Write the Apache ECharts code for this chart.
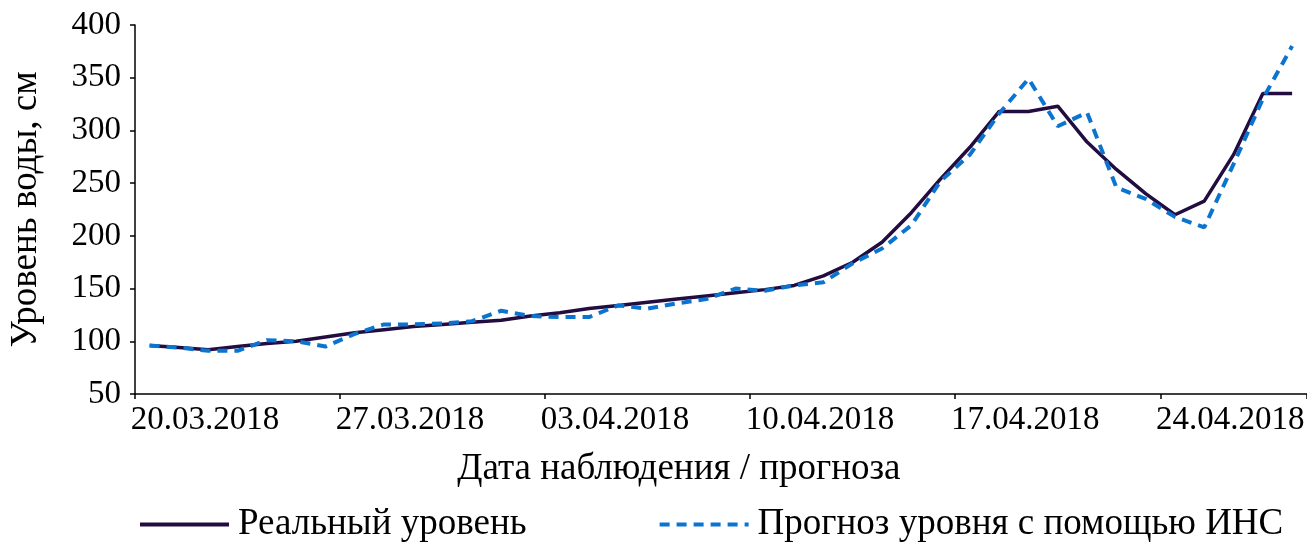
<!DOCTYPE html>
<html>
<head>
<meta charset="utf-8">
<script src="https://cdn.jsdelivr.net/npm/echarts@6/dist/echarts.min.js"></script>
<style>
html,body{margin:0;padding:0;background:#fff;}
#chart{width:1307px;height:544px;}
</style>
</head>
<body>
<div id="chart"></div>
<script>
const categories = [
  '20.03.2018','21.03.2018','22.03.2018','23.03.2018','24.03.2018','25.03.2018','26.03.2018',
  '27.03.2018','28.03.2018','29.03.2018','30.03.2018','31.03.2018','01.04.2018','02.04.2018',
  '03.04.2018','04.04.2018','05.04.2018','06.04.2018','07.04.2018','08.04.2018','09.04.2018',
  '10.04.2018','11.04.2018','12.04.2018','13.04.2018','14.04.2018','15.04.2018','16.04.2018',
  '17.04.2018','18.04.2018','19.04.2018','20.04.2018','21.04.2018','22.04.2018','23.04.2018',
  '24.04.2018','25.04.2018','26.04.2018','27.04.2018','28.04.2018'
];
const realLevel = [96, 94, 92, 95, 98, 100, 104, 108, 111, 114, 116, 118, 120, 124, 127, 131, 134, 137, 140, 143,
  146, 149, 153, 162, 175, 194, 222, 254, 284, 318, 318, 323, 289, 263, 240, 220, 233, 277, 335, 335];
const forecastLevel = [96, 94, 91, 91, 101, 100, 95, 107, 116, 116, 117, 119, 129, 124, 123, 123, 134, 131, 136, 140,
  150, 148, 153, 156, 174, 188, 210, 252, 277, 316, 349, 304, 317, 246, 235, 218, 208, 268, 330, 380];
const seriesNames = ['Реальный уровень', 'Прогноз уровня с помощью ИНС'];
const xTitle = 'Дата наблюдения / прогноза';
const yTitle = 'Уровень воды, см';

const FONT = 'Liberation Serif';
const chart = echarts.init(document.getElementById('chart'), null, {renderer: 'canvas'});
chart.setOption({
  animation: false,
  backgroundColor: '#fff',
  grid: {left: 131, right: 0, top: 25, bottom: 150},
  legend: {
    left: 133, top: 501,
    itemWidth: 89, itemHeight: 16, itemGap: 131,
    itemStyle: {opacity: 0},
    lineStyle: {width: 4},
    textStyle: {fontFamily: FONT, fontSize: 37, color: '#000', padding: [0, 0, 0, 4]},
    data: seriesNames
  },
  xAxis: {
    type: 'category',
    data: categories,
    boundaryGap: true,
    axisLine: {lineStyle: {color: '#000', width: 1.5}},
    axisTick: {show: true, interval: 6, length: 5, lineStyle: {color: '#000', width: 1.5}},
    axisLabel: {interval: 6, align: 'left', padding: [0, 0, 0, -19], margin: 10,
      fontFamily: FONT, fontSize: 33, color: '#000'},
    splitLine: {show: false},
    name: xTitle, nameLocation: 'middle', nameGap: 57,
    nameTextStyle: {fontFamily: FONT, fontSize: 37, color: '#000', padding: [0, 84, 0, 0]}
  },
  yAxis: {
    type: 'value', min: 50, max: 400, interval: 50,
    axisLine: {show: true, lineStyle: {color: '#000', width: 1.5}},
    axisTick: {show: true, length: 5, lineStyle: {color: '#000', width: 1.5}},
    axisLabel: {margin: 14, fontFamily: FONT, fontSize: 33, color: '#000'},
    splitLine: {show: false},
    name: yTitle, nameLocation: 'middle', nameGap: 90, nameRotate: 90,
    nameTextStyle: {fontFamily: FONT, fontSize: 37, color: '#000'}
  },
  series: [
    {name: seriesNames[0], type: 'line', data: realLevel, symbol: 'none',
      lineStyle: {color: '#220c40', width: 3.5}, itemStyle: {color: '#220c40'}},
    {name: seriesNames[1], type: 'line', data: forecastLevel, symbol: 'none',
      lineStyle: {color: '#0b74cf', width: 4, type: [10, 7]}, itemStyle: {color: '#0b74cf'}}
  ]
});
</script>
</body>
</html>
